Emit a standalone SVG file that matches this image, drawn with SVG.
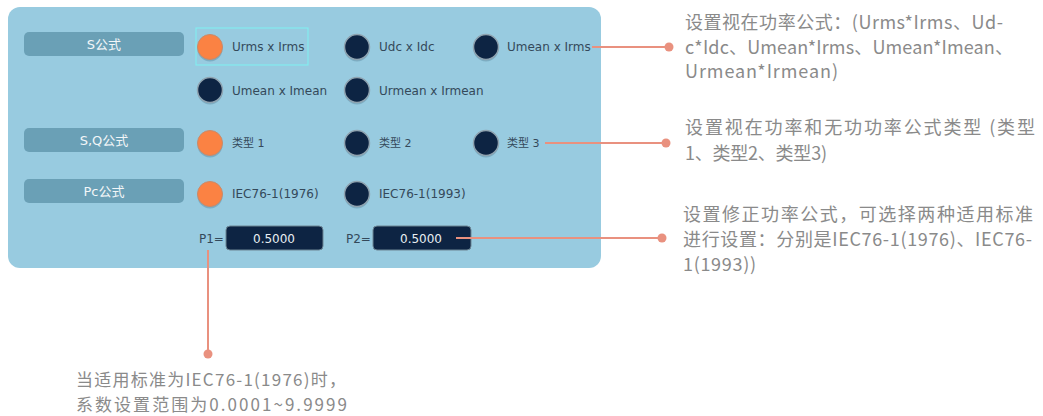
<svg xmlns="http://www.w3.org/2000/svg" width="1043" height="416" viewBox="0 0 1043 416">
<style>
.pill{fill:#6aa0b6}
.pl{font-family:"DejaVu Sans","Noto Sans CJK SC",sans-serif;font-size:13px;fill:#f2f6f8;text-anchor:middle}
.lbl{font-family:"DejaVu Sans","Noto Sans CJK SC",sans-serif;font-size:12px;fill:#34495a}
.sm{font-size:11px}
.on{fill:#fb8243;stroke:#c88a6a;stroke-width:1}
.off{fill:#0d2443;stroke:#8fa3b0;stroke-width:1.5}
.sh{fill:#5c8aa0;opacity:0.45}
.box{fill:#0d2443;stroke:#6d8594;stroke-width:1}
.val{font-family:"DejaVu Sans",sans-serif;font-size:12px;fill:#e8eef2;text-anchor:middle}
.ann{font-family:"Noto Sans CJK SC","Noto Sans",sans-serif;font-size:18px;fill:#8a8a8a}
.ann2{font-size:17px}
.ln{stroke:#e9917f;stroke-width:2;fill:none}
.dot{fill:#e9917f}
</style>
<g id="panel">
<rect x="8" y="7" width="593" height="261" rx="12" fill="#98cbe0"/>
</g>
<g id="s-label"><rect class="pill" x="24" y="32" width="160" height="24" rx="5"/><text class="pl" x="104" y="49">S公式</text></g>
<g id="sq-label"><rect class="pill" x="24" y="128" width="160" height="24" rx="5"/><text class="pl" x="104" y="145">S,Q公式</text></g>
<g id="pc-label"><rect class="pill" x="24" y="179" width="160" height="24" rx="5"/><text class="pl" x="104" y="196">Pc公式</text></g>

<g id="opt-urms">
<rect x="196" y="28" width="112" height="37" fill="none" stroke="#7ff2f2" stroke-width="1"/>
<circle class="sh" cx="210" cy="49" r="12.5"/><circle class="on" cx="210" cy="47" r="12.5"/>
<text class="lbl" x="232" y="51">Urms x Irms</text></g>
<g id="opt-udc"><circle class="sh" cx="357" cy="49" r="12.5"/><circle class="off" cx="357" cy="47" r="12.5"/><text class="lbl" x="379" y="51">Udc x Idc</text></g>
<g id="opt-umean-irms"><circle class="sh" cx="486" cy="49" r="12.5"/><circle class="off" cx="486" cy="47" r="12.5"/><text class="lbl" x="507" y="51">Umean x Irms</text></g>
<g id="opt-umean-imean"><circle class="sh" cx="210" cy="92" r="12.5"/><circle class="off" cx="210" cy="90" r="12.5"/><text class="lbl" x="232" y="95">Umean x Imean</text></g>
<g id="opt-urmean"><circle class="sh" cx="357" cy="92" r="12.5"/><circle class="off" cx="357" cy="90" r="12.5"/><text class="lbl" x="379" y="95">Urmean x Irmean</text></g>

<g id="opt-type1"><circle class="sh" cx="210" cy="145" r="12.5"/><circle class="on" cx="210" cy="143" r="12.5"/><text class="lbl sm" x="232" y="147">类型 1</text></g>
<g id="opt-type2"><circle class="sh" cx="357" cy="145" r="12.5"/><circle class="off" cx="357" cy="143" r="12.5"/><text class="lbl sm" x="379" y="147">类型 2</text></g>
<g id="opt-type3"><circle class="sh" cx="486" cy="145" r="12.5"/><circle class="off" cx="486" cy="143" r="12.5"/><text class="lbl sm" x="507" y="147">类型 3</text></g>

<g id="opt-1976"><circle class="sh" cx="210" cy="196" r="12.5"/><circle class="on" cx="210" cy="194" r="12.5"/><text class="lbl" x="232" y="198">IEC76-1(1976)</text></g>
<g id="opt-1993"><circle class="sh" cx="357" cy="196" r="12.5"/><circle class="off" cx="357" cy="194" r="12.5"/><text class="lbl" x="379" y="198">IEC76-1(1993)</text></g>

<g id="p1"><text class="lbl" x="199" y="243">P1=</text><rect class="box" x="226" y="226" width="97" height="24" rx="4"/><text class="val" x="274" y="243">0.5000</text></g>
<g id="p2"><text class="lbl" x="346" y="243">P2=</text><rect class="box" x="373" y="226" width="98" height="24" rx="4"/><text class="val" x="421" y="243">0.5000</text></g>

<g id="connectors">
<path class="ln" d="M592 47H669"/><circle class="dot" cx="669" cy="47" r="4.5"/>
<path class="ln" d="M545 143H666"/><circle class="dot" cx="666" cy="143" r="4.5"/>
<path class="ln" d="M456 238H662"/><circle class="dot" cx="662" cy="238" r="4.5"/>
<path class="ln" d="M208 250V354"/><circle class="dot" cx="208" cy="354" r="4.5"/>
</g>

<g id="note-s">
<text class="ann" x="685" y="29" textLength="318" lengthAdjust="spacing">设置视在功率公式：(Urms*Irms、Ud-</text>
<text class="ann" x="685" y="54" textLength="328" lengthAdjust="spacing">c*Idc、Umean*Irms、Umean*Imean、</text>
<text class="ann" x="685" y="78" textLength="153" lengthAdjust="spacing">Urmean*Irmean)</text>
</g>
<g id="note-sq">
<text class="ann" x="685" y="134" textLength="350" lengthAdjust="spacing">设置视在功率和无功功率公式类型 (类型</text>
<text class="ann" x="685" y="160" textLength="142" lengthAdjust="spacing">1、类型2、类型3)</text>
</g>
<g id="note-pc">
<text class="ann" x="683" y="221" textLength="350" lengthAdjust="spacing">设置修正功率公式，可选择两种适用标准</text>
<text class="ann" x="683" y="246" textLength="349" lengthAdjust="spacing">进行设置：分别是IEC76-1(1976)、IEC76-</text>
<text class="ann" x="683" y="271" textLength="73" lengthAdjust="spacing">1(1993))</text>
</g>
<g id="note-p1">
<text class="ann ann2" x="76" y="386" textLength="270" lengthAdjust="spacing">当适用标准为IEC76-1(1976)时，</text>
<text class="ann ann2" x="76" y="411" textLength="271" lengthAdjust="spacing">系数设置范围为0.0001~9.9999</text>
</g>
</svg>
